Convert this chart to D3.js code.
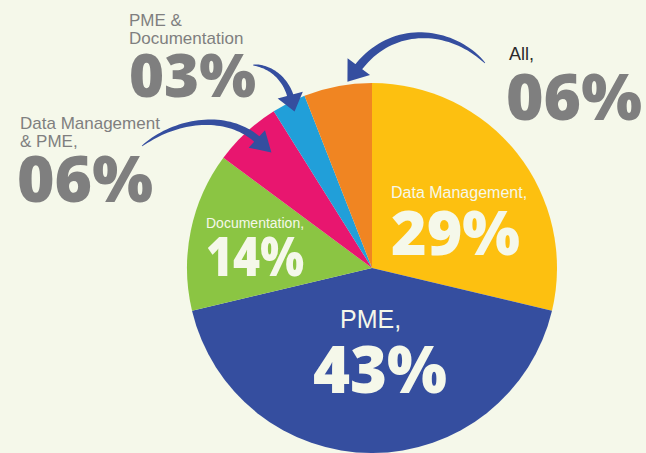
<!DOCTYPE html>
<html>
<head>
<meta charset="utf-8">
<script src="https://cdn.jsdelivr.net/npm/d3@7"></script>
<style>
  html, body { margin: 0; padding: 0; background: #f5f8ea; }
  svg { display: block; }
</style>
</head>
<body>
<div id="chart"></div>
<script>
// slice data, clockwise from 12 o'clock
const categories = ['Data Management', 'PME', 'Documentation', 'Data Management & PME', 'PME & Documentation', 'All']
const shares = [29, 43, 14, 6, 3, 6]
const sliceColors = ['#fdc010', '#354e9f', '#8bc543', '#e8166f', '#219fd9', '#f08522']

// label lines (text only)
const labelLines = [
  ['Data Management,'],
  ['PME,'],
  ['Documentation,'],
  ['Data Management', '& PME,'],
  ['PME &', 'Documentation'],
  ['All,']
]

const width = 646
const height = 453
const cx = 372
const cy = 268
const radius = 185

// where each label sits: x, baseline of the name lines, big number baseline etc.
const labelLayout = [
  { x: 391, lineY: [198], nameSize: 16, nameColor: '#f5f8ea', numY: 255, numSize: 62, numW: 129, numColor: '#f5f8ea' },
  { x: 340, lineY: [328], nameSize: 25, nameColor: '#f5f8ea', numX: 313, numY: 393, numSize: 66, numW: 134, numColor: '#f5f8ea' },
  { x: 206, lineY: [228], nameSize: 14, nameColor: '#f5f8ea', numY: 276, numSize: 54, numW: 98, numColor: '#f5f8ea' },
  { x: 20, lineY: [129, 147], nameSize: 17, nameColor: '#7f7f7f', numX: 17, numY: 202, numSize: 63, numW: 136, numColor: '#7f7f7f' },
  { x: 129, lineY: [26, 44], nameSize: 17, nameColor: '#7f7f7f', numY: 97, numSize: 61, numW: 127, numColor: '#7f7f7f' },
  { x: 509, lineY: [60], nameSize: 18, nameColor: '#2b2b2b', numX: 506, numY: 120, numSize: 64, numW: 136, numColor: '#7f7f7f' }
]

// curved callout arrows: tail, c1, c2, end of shaft, max shaft width, head size
const arrows = [
  { p: [[253, 65], [271, 66], [286, 79], [291, 98]], w: 6, headLen: 14, headHalf: 13 },
  { p: [[142, 146], [176, 119], [228, 112], [259, 141]], w: 7, headLen: 17, headHalf: 12 },
  { p: [[485, 63], [452, 28], [392, 22], [357, 69]], w: 8, headLen: 16, headHalf: 14 }
]

const svg = d3.select('#chart').append('svg')
  .attr('width', width)
  .attr('height', height)

svg.append('rect')
  .attr('width', width)
  .attr('height', height)
  .attr('fill', '#f5f8ea')

const pie = d3.pie().sort(null).value(d => d)
const arc = d3.arc().innerRadius(0).outerRadius(radius)

svg.append('g')
  .attr('transform', `translate(${cx},${cy})`)
  .selectAll('path')
  .data(pie(shares))
  .join('path')
  .attr('d', arc)
  .attr('fill', (d, i) => sliceColors[i])

// tapered arrow shapes
function bez (p, t) {
  const u = 1 - t
  return [0, 1].map(k => u * u * u * p[0][k] + 3 * u * u * t * p[1][k] + 3 * u * t * t * p[2][k] + t * t * t * p[3][k])
}

function arrowPath (a) {
  const n = 40
  const left = []
  const right = []
  for (let i = 0; i <= n; i++) {
    const t = i / n
    const pt = bez(a.p, t)
    const pt2 = bez(a.p, Math.min(1, t + 0.01))
    const pt1 = bez(a.p, Math.max(0, t - 0.01))
    let dx = pt2[0] - pt1[0]
    let dy = pt2[1] - pt1[1]
    const len = Math.hypot(dx, dy)
    dx /= len; dy /= len
    const hw = (a.w / 2) * Math.pow(t, 0.6) + 0.3
    left.push([pt[0] - dy * hw, pt[1] + dx * hw])
    right.push([pt[0] + dy * hw, pt[1] - dx * hw])
  }
  const end = a.p[3]
  const c2 = a.p[2]
  let dx = end[0] - c2[0]
  let dy = end[1] - c2[1]
  const len = Math.hypot(dx, dy)
  dx /= len; dy /= len
  const back = [end[0] - dx * 3, end[1] - dy * 3]
  const head = [
    [back[0] - dy * a.headHalf, back[1] + dx * a.headHalf],
    [end[0] + dx * a.headLen, end[1] + dy * a.headLen],
    [back[0] + dy * a.headHalf, back[1] - dx * a.headHalf]
  ]
  const line = d3.line()
  return line(left.concat(right.reverse())) + 'Z' + line(head) + 'Z'
}

svg.append('g')
  .selectAll('path')
  .data(arrows)
  .join('path')
  .attr('d', arrowPath)
  .attr('fill', '#354e9f')

// labels
const pctFormat = v => d3.format('02d')(v) + '%'

const labels = svg.append('g')
  .selectAll('g')
  .data(categories)
  .join('g')

labels.each(function (c, i) {
  const g = d3.select(this)
  const L = labelLayout[i]
  labelLines[i].forEach((t, j) => {
    g.append('text')
      .attr('x', L.x)
      .attr('y', L.lineY[j])
      .attr('fill', L.nameColor)
      .style('font-family', '"Liberation Sans", Arial, sans-serif')
      .style('font-size', L.nameSize + 'px')
      .text(t)
  })
  g.append('text')
    .attr('x', L.numX != null ? L.numX : L.x)
    .attr('y', L.numY)
    .attr('fill', L.numColor)
    .attr('textLength', L.numW)
    .attr('lengthAdjust', 'spacingAndGlyphs')
    .style('font-family', '"Open Sans", Roboto, sans-serif')
    .style('font-weight', 800)
    .style('font-size', L.numSize + 'px')
    .text(pctFormat(shares[i]))
})
</script>
</body>
</html>
